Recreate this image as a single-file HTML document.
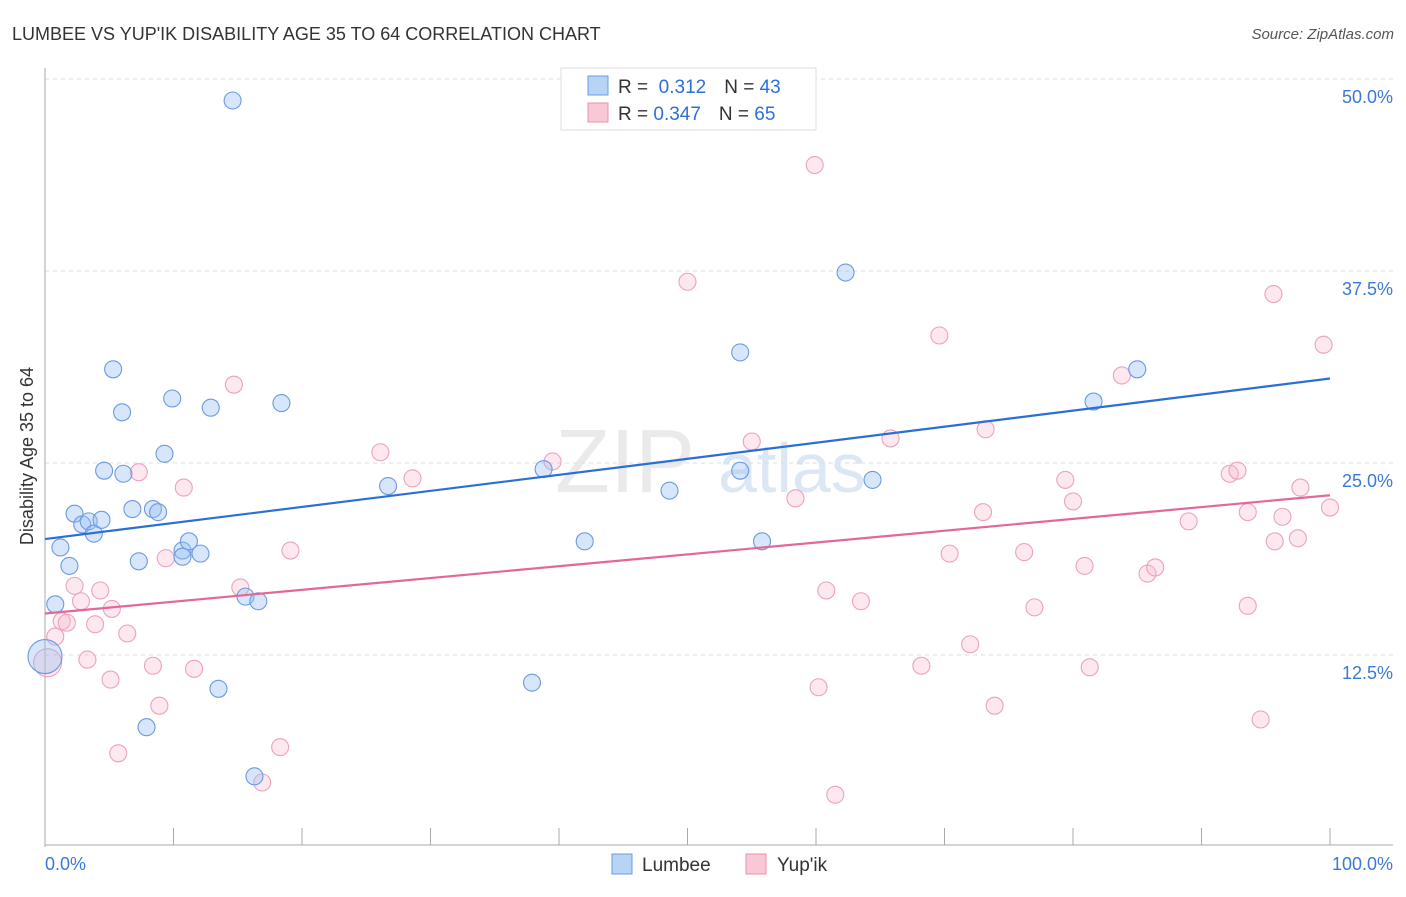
<!DOCTYPE html>
<html><head><meta charset="utf-8"><style>
body{margin:0;background:#fff;font-family:"Liberation Sans",sans-serif;}
svg text{font-family:"Liberation Sans",sans-serif;}
</style></head><body>
<svg id="c" width="1406" height="892">
<text x="12" y="40" font-size="18" fill="#333">LUMBEE VS YUP'IK DISABILITY AGE 35 TO 64 CORRELATION CHART</text>
<text x="1394" y="39" font-size="15" fill="#555" text-anchor="end" font-style="italic">Source: ZipAtlas.com</text>
<text x="0" y="0" transform="translate(33,456) rotate(-90)" font-size="18" fill="#333" text-anchor="middle">Disability Age 35 to 64</text>
<g><text x="555" y="492" font-size="90" fill="#ddd" font-family="Liberation Serif" opacity="0.6">ZIP</text><text x="718" y="492" font-size="70" fill="#c5d8f0" opacity="0.6">atlas</text></g>
<g id="grid"></g><g id="marks"></g>
<g>
<rect x="561" y="68" width="255" height="62" fill="#fff" stroke="#ddd"/>
<rect x="588" y="76" width="20" height="19" fill="#b8d4f5" stroke="#6a9be0"/>
<rect x="588" y="103" width="20" height="19" fill="#f9c8d6" stroke="#e890ab"/>
<text x="618" y="93" font-size="19" fill="#333">R = <tspan fill="#2e6fd8">&#160;0.312</tspan><tspan dx="18">N = </tspan><tspan fill="#2e6fd8">43</tspan></text>
<text x="618" y="120" font-size="19" fill="#333">R = <tspan fill="#2e6fd8">0.347</tspan><tspan dx="18">N = </tspan><tspan fill="#2e6fd8">65</tspan></text>
</g>
<g>
<rect x="612" y="854" width="20" height="20" fill="#b8d4f5" stroke="#6a9be0"/>
<text x="642" y="871" font-size="19" fill="#333">Lumbee</text>
<rect x="746" y="854" width="20" height="20" fill="#f9c8d6" stroke="#e890ab"/>
<text x="777" y="871" font-size="19" fill="#333">Yup'ik</text>
</g>
</svg>
<script>
const yTicks=[12.5,25,37.5,50];
const yTickLabels=["12.5%","25.0%","37.5%","50.0%"];
const xTickLabels=["0.0%","100.0%"];
const lumbeeX=[14.6,5.3,6.0,9.9,12.9,18.4,9.3,4.6,6.1,2.3,2.9,3.4,3.8,4.4,6.8,8.4,8.8,1.2,1.9,7.3,10.7,10.7,11.2,12.1,0.8,15.6,16.6,13.5,7.9,16.3,0,26.7,38.8,42.0,37.9,48.6,54.1,54.1,55.8,62.3,64.4,81.6,85.0];
const lumbeeY=[48.6,31.1,28.3,29.2,28.6,28.9,25.6,24.5,24.3,21.7,21.0,21.2,20.4,21.3,22.0,22.0,21.8,19.5,18.3,18.6,19.3,18.9,19.9,19.1,15.8,16.3,16.0,10.3,7.8,4.6,12.4,23.5,24.6,19.9,10.7,23.2,32.2,24.5,19.9,37.4,23.9,29.0,31.1];
const yupikX=[14.7,7.3,10.8,9.4,19.1,2.3,4.3,2.8,5.2,1.3,1.7,3.9,0.8,6.4,3.3,5.1,8.4,11.6,8.9,5.7,15.2,18.3,16.9,0.2,26.1,28.6,39.5,50.0,55.0,58.4,59.9,60.8,60.2,63.5,61.5,65.8,69.6,70.4,68.2,72.0,73.2,73.0,73.9,76.2,77.0,79.4,80.0,80.9,81.3,83.8,85.8,86.4,89.0,92.2,92.8,93.6,93.6,94.6,95.7,96.3,95.6,97.7,97.5,99.5,100.0];
const yupikY=[30.1,24.4,23.4,18.8,19.3,17.0,16.7,16.0,15.5,14.7,14.6,14.5,13.7,13.9,12.2,10.9,11.8,11.6,9.2,6.1,16.9,6.5,4.2,12.0,25.7,24.0,25.1,36.8,26.4,22.7,44.4,16.7,10.4,16.0,3.4,26.6,33.3,19.1,11.8,13.2,27.2,21.8,9.2,19.2,15.6,23.9,22.5,18.3,11.7,30.7,17.8,18.2,21.2,24.3,24.5,21.8,15.7,8.3,19.9,21.5,36.0,23.4,20.1,32.7,22.1];
const lumbeeTrend=[20.05,30.5];
const yupikTrend=[15.2,22.9];
const X=v=>45+v*12.85, Y=v=>847-v*15.36;
const NS="http://www.w3.org/2000/svg";
const grid=document.getElementById('grid'), marks=document.getElementById('marks');
function mk(tag,attrs,parent){const e=document.createElementNS(NS,tag);for(const k in attrs)e.setAttribute(k,attrs[k]);parent.appendChild(e);return e;}
yTicks.forEach((t,i)=>{
 const l=mk('line',{x1:45,x2:1393,y1:Y(t),y2:Y(t),stroke:'#ddd','stroke-dasharray':'4,4'},grid);
 
 
 const tx=mk('text',{x:1393,y:Y(t)+24,'font-size':18,fill:'#3b78d8','text-anchor':'end'},grid);
 tx.textContent=yTickLabels[i];
 
 
});
const ax=mk('line',{x1:45,x2:45,y1:68,y2:847,stroke:'#aaa'},grid);


const bx=mk('line',{x1:45,x2:1393,y1:845,y2:845,stroke:'#aaa'},grid);


for(let i=0;i<=10;i++){const t=mk('line',{x1:X(i*10),x2:X(i*10),y1:828,y2:845,stroke:'#aaa'},grid);
 
 }
[[0,'start',45],[1,'end',1393]].forEach(([i,a,x])=>{const t=mk('text',{x:x,y:870,'font-size':18,fill:'#3b78d8','text-anchor':a},grid);t.textContent=xTickLabels[i];
 
 });
function pts(xs,ys,fill,stroke,name){xs.forEach((x,i)=>{const big=(x===0&&name==='lumbee-point')||(x===0.2&&name==='yupik-point');
 const c=mk('circle',{cx:X(x),cy:Y(ys[i]),r:big?(name==='lumbee-point'?17:14):8.5,fill:fill,stroke:stroke,'stroke-width':1.1},marks);
 
 });}
pts(yupikX,yupikY,'rgba(246,182,202,0.32)','#eba3ba','yupik-point');
pts(lumbeeX,lumbeeY,'rgba(150,190,242,0.38)','#6a9be2','lumbee-point');
const t1=mk('line',{x1:X(0),y1:Y(lumbeeTrend[0]),x2:X(100),y2:Y(lumbeeTrend[1]),stroke:'#2a6fd6','stroke-width':2.2},marks);


const t2=mk('line',{x1:X(0),y1:Y(yupikTrend[0]),x2:X(100),y2:Y(yupikTrend[1]),stroke:'#e4679a','stroke-width':2.2},marks);


</script>
</body></html>
